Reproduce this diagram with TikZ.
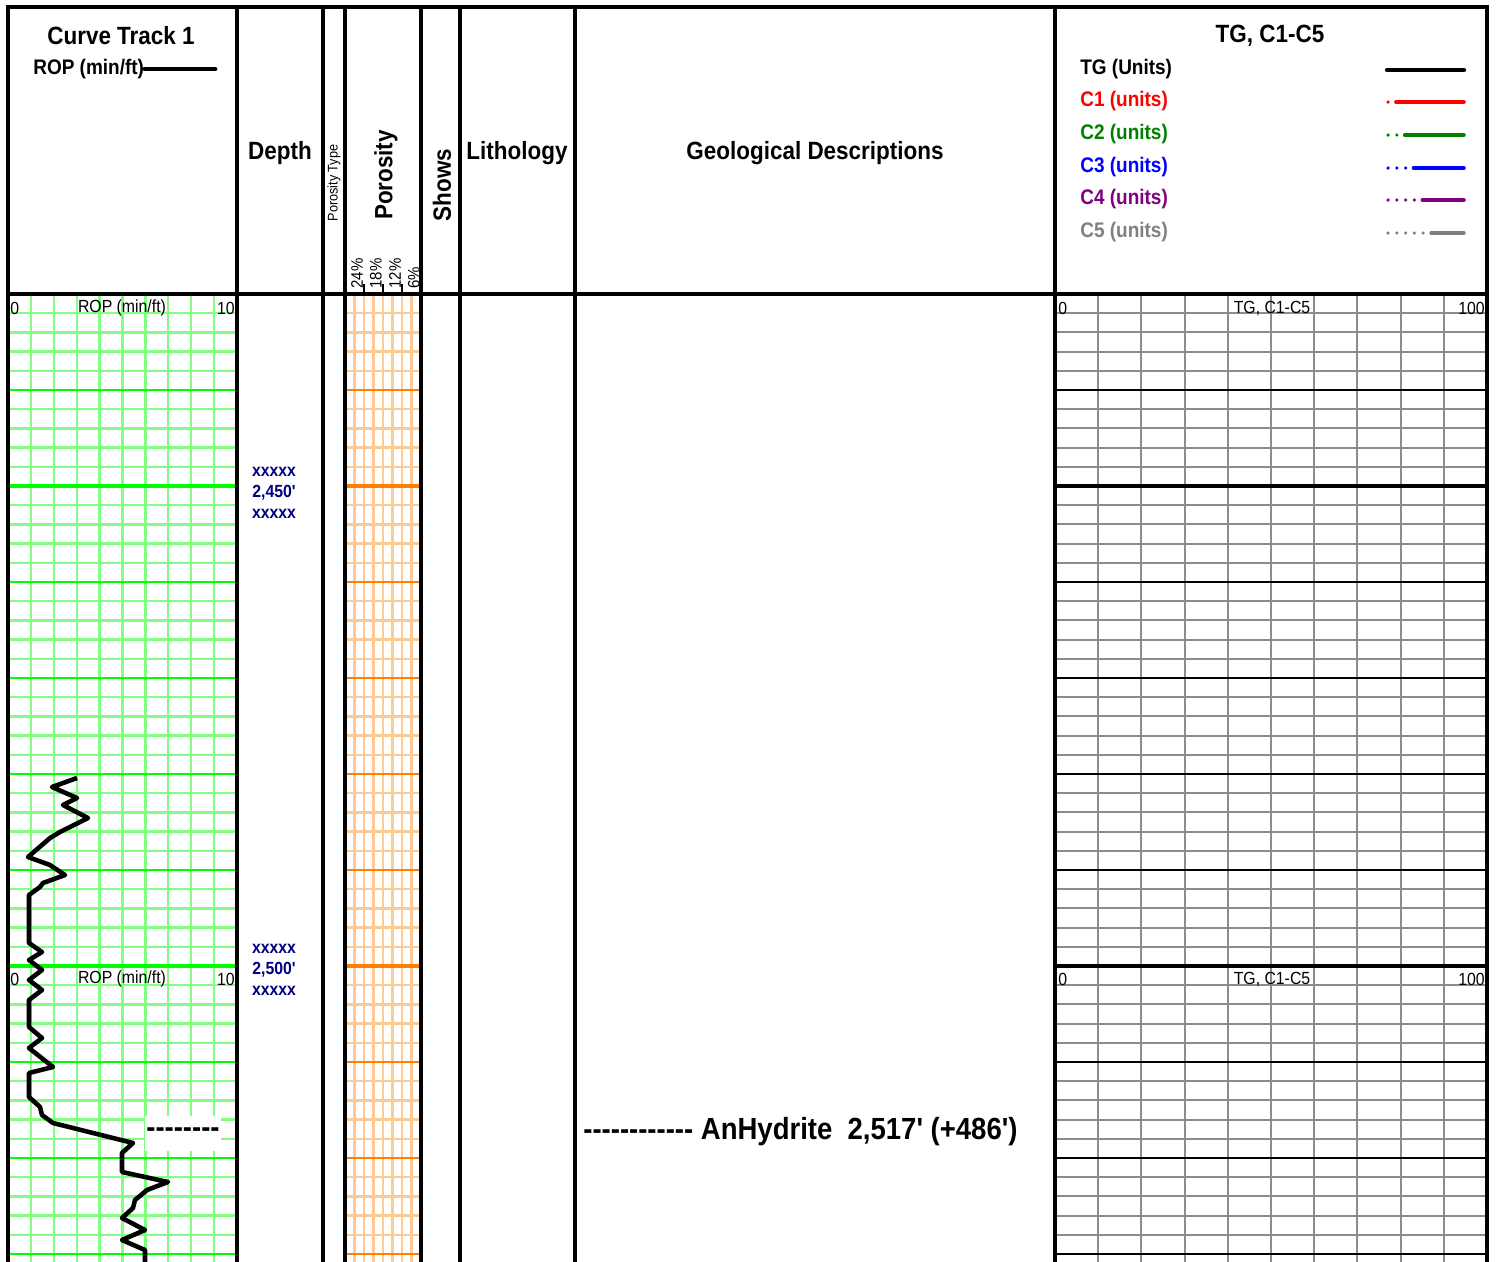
\documentclass[tikz,border=0pt]{standalone}
\usepackage{fontspec}
\setmainfont{Liberation Sans}[FakeStretch=0.9, Ligatures=TeXOff]
\usepackage{xcolor}
\usepackage{tikz}

\definecolor{ropgreenlt}{RGB}{128,255,128}
\definecolor{ropgreen}{RGB}{0,255,0}
\definecolor{porlt}{RGB}{255,200,150}
\definecolor{pordark}{RGB}{255,128,0}
\definecolor{tggray}{RGB}{140,140,140}
\definecolor{depthblue}{RGB}{0,0,128}
\definecolor{ctwogreen}{RGB}{0,128,0}
\definecolor{cfourpurple}{RGB}{128,0,128}
\definecolor{cfivegray}{RGB}{128,128,128}

\newcommand{\hdfont}{\fontsize{14.2}{16}\selectfont\bfseries}
\newcommand{\keyfont}{\fontsize{12}{14}\selectfont\bfseries}
\newcommand{\sclfont}{\fontsize{10}{12}\selectfont}
\newcommand{\depfont}{\fontsize{10}{12}\selectfont\bfseries}
\newcommand{\smfont}{\fontsize{8}{10}\selectfont}
\newcommand{\pctfont}{\fontsize{9.5}{11}\selectfont}
\newcommand{\topfont}{\fontsize{17.4}{20}\selectfont\bfseries}

\begin{document}
\begin{tikzpicture}[x=0.02cm, y=-0.02cm, every node/.style={inner sep=0pt},
    trackline/.style={line width=2pt},
    ropgrid/.style={draw=ropgreenlt, line width=1.3pt},
    ropmajor/.style={draw=ropgreen, line width=1.5pt},
    ropfifty/.style={draw=ropgreen, line width=2.3pt},
    porgrid/.style={draw=porlt, line width=1.3pt},
    pormajor/.style={draw=pordark, line width=1.5pt},
    porfifty/.style={draw=pordark, line width=2.3pt},
    tggrid/.style={draw=tggray, line width=1.2pt},
    tgmajor/.style={draw=black, line width=1.2pt},
    tgfifty/.style={draw=black, line width=2.3pt},
    ropcurve/.style={line width=2.6pt, line join=round},
    legline/.style={line width=2pt, line cap=round}]
    \useasboundingbox (0,0) rectangle (1499,1262);

    \foreach \i in {1,...,9} {
        \draw[ropgrid] (8+22.9*\i,294) -- (8+22.9*\i,1262);
        \draw[tggrid] (1055+43.2*\i,294) -- (1055+43.2*\i,1262);
    }
    \foreach \i in {1,...,7}
        \draw[porgrid] (345+9.5*\i,294) -- (345+9.5*\i,1262);
    \foreach \k in {1,...,50} {
        \draw[ropgrid] (8,294+19.2*\k) -- (237,294+19.2*\k);
        \draw[porgrid] (345,294+19.2*\k) -- (421,294+19.2*\k);
        \draw[tggrid] (1055,294+19.2*\k) -- (1487,294+19.2*\k);
    }
    \foreach \k in {5,15,20,25,30,40,45,50} {
        \draw[ropmajor] (8,294+19.2*\k) -- (237,294+19.2*\k);
        \draw[pormajor] (345,294+19.2*\k) -- (421,294+19.2*\k);
        \draw[tgmajor] (1055,294+19.2*\k) -- (1487,294+19.2*\k);
    }
    \foreach \k in {10,35} {
        \draw[ropfifty] (8,294+19.2*\k) -- (237,294+19.2*\k);
        \draw[porfifty] (345,294+19.2*\k) -- (421,294+19.2*\k);
        \draw[tgfifty] (1055,294+19.2*\k) -- (1487,294+19.2*\k);
    }

    \foreach \x in {237,323,345,421,460,575,1055}
        \draw[trackline] (\x,7) -- (\x,1262);
    \draw[trackline] (8,1262) -- (8,7) -- (1487,7) -- (1487,1262);
    \draw[line width=2.4pt] (8,294) -- (1487,294);
    \foreach \x in {364,383,402}
        \draw[line width=0.7pt] (\x,284) -- (\x,294);

    \node (curvetrack) at (121,36) {\hdfont Curve Track 1};
    \node[anchor=west] (ropkey) at (33,69) {\keyfont ROP (min/ft)};
    \draw[line width=2.3pt, line cap=round] (ropkey.east) -- ++(71,0);
    \node (depthhead) at (280,153) {\hdfont Depth};
    \node[rotate=90] (portype) at (334,183) {\smfont Porosity Type};
    \node[rotate=90] (porhead) at (386,175) {\hdfont Porosity};
    \node[rotate=90] (showshead) at (442,185) {\hdfont Shows};
    \node (lithhead) at (517,153) {\hdfont Lithology};
    \node (geohead) at (815,153) {\hdfont Geological Descriptions};
    \node[rotate=90, anchor=west] (pct24) at (357,289) {\pctfont 24\%};
    \node[rotate=90, anchor=west] (pct18) at (376,289) {\pctfont 18\%};
    \node[rotate=90, anchor=west] (pct12) at (395,289) {\pctfont 12\%};
    \node[rotate=90, anchor=west] (pct6) at (414,289) {\pctfont 6\%};

    \node (tghead) at (1270,36) {\hdfont TG, C1-C5};
    \node[anchor=west] (tgkey) at (1080,69) {\keyfont TG (Units)};
    \node[anchor=west, text=red] (conekey) at (1080,101) {\keyfont C1 (units)};
    \node[anchor=west, text=ctwogreen] (ctwokey) at (1080,134) {\keyfont C2 (units)};
    \node[anchor=west, text=blue] (cthreekey) at (1080,167) {\keyfont C3 (units)};
    \node[anchor=west, text=cfourpurple] (cfourkey) at (1080,199) {\keyfont C4 (units)};
    \node[anchor=west, text=cfivegray] (cfivekey) at (1080,232) {\keyfont C5 (units)};
    \coordinate (tgkeyend) at (1464,70);
    \draw[line width=2.4pt, line cap=round] (1387,70) -- (tgkeyend);
    \draw[legline, red, dash pattern=on 0pt off 4.5pt on 60pt off 1pt] (1388,102) -- (1464,102);
    \draw[legline, ctwogreen, dash pattern=on 0pt off 5pt on 0pt off 4.5pt on 60pt off 1pt] (1388,135) -- (1464,135);
    \draw[legline, blue, dash pattern=on 0pt off 5pt on 0pt off 5pt on 0pt off 4.5pt on 60pt off 1pt] (1388,168) -- (1464,168);
    \draw[legline, cfourpurple, dash pattern=on 0pt off 5pt on 0pt off 5pt on 0pt off 5pt on 0pt off 4.5pt on 60pt off 1pt] (1388,200) -- (1464,200);
    \draw[legline, cfivegray, dash pattern=on 0pt off 5pt on 0pt off 5pt on 0pt off 5pt on 0pt off 5pt on 0pt off 4.5pt on 60pt off 1pt] (1388,233) -- (1464,233);

    \foreach \y/\n in {308/a,979/b} {
        \node[anchor=west] (ropzero\n) at (10,\y) {\sclfont 0};
        \node (ropname\n) at (122,\y) {\sclfont ROP (min/ft)};
        \node[anchor=east] (ropten\n) at (235,\y) {\sclfont 10};
        \node[anchor=west] (tgzero\n) at (1058,\y) {\sclfont 0};
        \node (tgname\n) at (1272,\y) {\sclfont TG, C1-C5};
        \node[anchor=east] (tghundred\n) at (1485,\y) {\sclfont 100};
    }

    \node[font=\depfont, text=depthblue, align=center] (depth2450) at (274,493) {xxxxx\\2,450'\\xxxxx};
    \node[font=\depfont, text=depthblue, align=center] (depth2500) at (274,970) {xxxxx\\2,500'\\xxxxx};

    \draw[ropcurve] plot coordinates {(77,778) (52,787) (77,798) (63,805) (88,818) (60,832) (50,838) (28,857) (50,865) (65,875) (43,883) (40,887) (29,895) (29,943) (42,952) (29,960) (42,970) (29,980) (42,990) (29,1000) (29,1027) (42,1038) (29,1048) (53,1067) (29,1073) (29,1097) (40,1107) (42,1115) (53,1123) (133,1143) (122,1153) (122,1172) (168,1182) (147,1190) (135,1200) (133,1208) (122,1218) (145,1230) (122,1240) (145,1250) (145,1263)};

    \node[fill=white, minimum height=0.7cm, inner xsep=1pt] (ropmark) at (183,1133) {\topfont --------};
    \node[anchor=west] (anhydrite) at (583,1132) {\topfont ------------ AnHydrite\ \ 2,517' (+486')};
\end{tikzpicture}
\end{document}
